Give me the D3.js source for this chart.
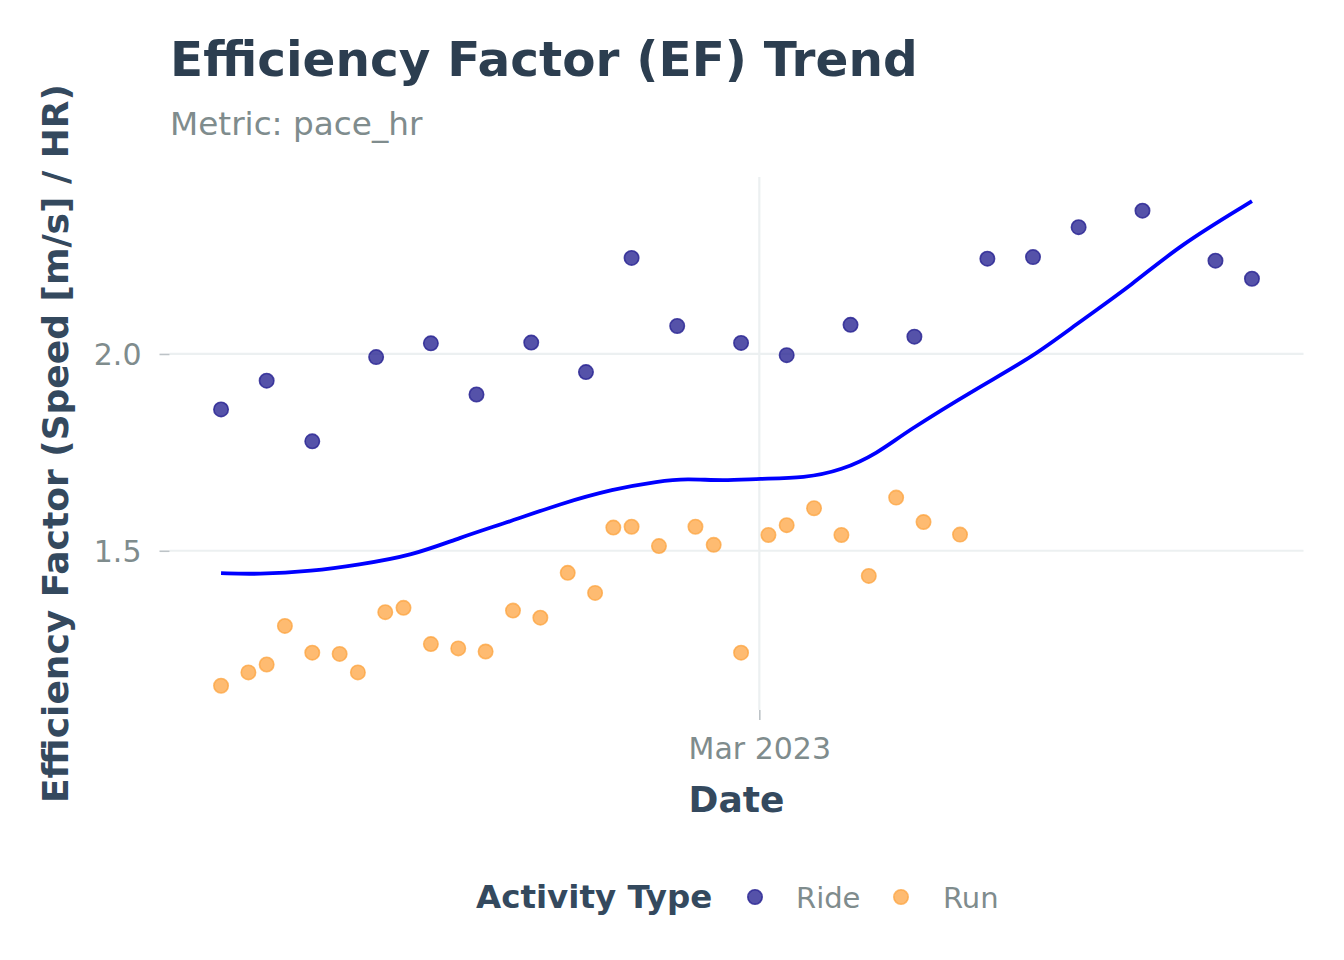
<!DOCTYPE html>
<html>
<head>
<meta charset="utf-8">
<script src="https://cdn.jsdelivr.net/npm/d3@7"></script>
<style>
  body { margin: 0; background: #fff; }
  text { font-family: "DejaVu Sans", sans-serif; }
</style>
</head>
<body>
<svg id="chart" width="1344" height="960"></svg>
<script>
// Ride activities
const rideDates = ["2023-01-01","2023-01-06","2023-01-11","2023-01-18","2023-01-24","2023-01-29",
  "2023-02-04","2023-02-10","2023-02-15","2023-02-20","2023-02-27","2023-03-04","2023-03-11",
  "2023-03-18","2023-03-26","2023-03-31","2023-04-05","2023-04-12","2023-04-20","2023-04-24"];
const rideEF = [1.859, 1.932, 1.778, 1.992, 2.027, 1.897, 2.029, 1.954, 2.244, 2.071, 2.028,
  1.997, 2.074, 2.044, 2.242, 2.246, 2.322, 2.364, 2.237, 2.191];

// Run activities
const runDates = ["2023-01-01","2023-01-04","2023-01-06","2023-01-08","2023-01-11","2023-01-14",
  "2023-01-16","2023-01-19","2023-01-21","2023-01-24","2023-01-27","2023-01-30","2023-02-02",
  "2023-02-05","2023-02-08","2023-02-11","2023-02-13","2023-02-15","2023-02-18","2023-02-22",
  "2023-02-24","2023-02-27","2023-03-02","2023-03-04","2023-03-07","2023-03-10","2023-03-13",
  "2023-03-16","2023-03-19","2023-03-23"];
const runEF = [1.157, 1.191, 1.211, 1.309, 1.241, 1.238, 1.191, 1.344, 1.355, 1.263, 1.252,
  1.244, 1.348, 1.330, 1.444, 1.393, 1.559, 1.561, 1.512, 1.561, 1.515, 1.241, 1.540, 1.565,
  1.608, 1.540, 1.436, 1.635, 1.573, 1.541];

// Smoothed trend
const trendDates = ["2023-01-01","2023-01-05","2023-01-11","2023-01-16","2023-01-22","2023-01-27",
  "2023-02-02","2023-02-07","2023-02-13","2023-02-18","2023-02-21","2023-02-25","2023-03-01",
  "2023-03-06","2023-03-10","2023-03-14","2023-03-17","2023-03-25","2023-03-31","2023-04-05",
  "2023-04-11","2023-04-16","2023-04-24"];
const trendEF = [1.443, 1.440, 1.448, 1.464, 1.488, 1.532, 1.577, 1.618, 1.657, 1.677, 1.683,
  1.678, 1.683, 1.685, 1.704, 1.748, 1.801, 1.915, 1.993, 2.080, 2.178, 2.275, 2.388];

const yTicks = [1.5, 2.0];
const xTicks = ["2023-03-01"];

const parse = d3.utcParse("%Y-%m-%d");
const rides = rideDates.map((d, i) => ({ date: parse(d), ef: rideEF[i], type: "Ride" }));
const runs = runDates.map((d, i) => ({ date: parse(d), ef: runEF[i], type: "Run" }));
const trend = trendDates.map((d, i) => ({ date: parse(d), ef: trendEF[i] }));

const colors = {
  Ride: { fill: "#2b2794", stroke: "#2b2794" },
  Run: { fill: "#fd9e35", stroke: "#fca33e" }
};

const svg = d3.select("#chart");
const panel = { left: 169.5, right: 1303.5, top: 177, bottom: 710 };

// ggplot-like 5% expansion
function expand(ext) {
  const pad = (ext[1] - ext[0]) * 0.05;
  return [ext[0] - pad, ext[1] + pad];
}
const all = rides.concat(runs);
const xExt = d3.extent(all, d => +d.date);
const yExt = d3.extent(all.concat(trend), d => d.ef);

const x = d3.scaleUtc()
  .domain(expand(xExt).map(v => new Date(v)))
  .range([panel.left, panel.right]);
const y = d3.scaleLinear()
  .domain(expand(yExt))
  .range([panel.bottom, panel.top]);

// Grid lines
svg.append("g")
  .selectAll("line")
  .data(yTicks)
  .join("line")
  .attr("x1", panel.left).attr("x2", panel.right)
  .attr("y1", d => y(d)).attr("y2", d => y(d))
  .attr("stroke", "#ecf0f1").attr("stroke-width", 2.2);

svg.append("g")
  .selectAll("line")
  .data(xTicks.map(parse))
  .join("line")
  .attr("x1", d => x(d)).attr("x2", d => x(d))
  .attr("y1", panel.top).attr("y2", panel.bottom)
  .attr("stroke", "#ecf0f1").attr("stroke-width", 2.2);

// Y axis
const yAxis = svg.append("g")
  .attr("transform", `translate(${panel.left},0)`)
  .call(d3.axisLeft(y).tickValues(yTicks).tickFormat(d3.format(".1f")).tickSize(10).tickPadding(18));
yAxis.select(".domain").remove();
yAxis.selectAll("line").attr("stroke", "#bdc3c7").attr("stroke-width", 1.6);
yAxis.selectAll("text")
  .attr("fill", "#7f8c8d")
  .style("font-size", "30px")
  .attr("dy", "0.36em");

// X axis
const xAxis = svg.append("g")
  .attr("transform", `translate(0,${panel.bottom})`)
  .call(d3.axisBottom(x).tickValues(xTicks.map(parse)).tickFormat(d3.utcFormat("%b %Y")).tickSize(10).tickPadding(10));
xAxis.select(".domain").remove();
xAxis.selectAll("line").attr("stroke", "#bdc3c7").attr("stroke-width", 1.6);
xAxis.selectAll("text")
  .attr("fill", "#7f8c8d")
  .style("font-size", "30px")
  .attr("dy", "0.95em");

// Points
svg.append("g")
  .selectAll("circle")
  .data(all)
  .join("circle")
  .attr("cx", d => x(d.date))
  .attr("cy", d => y(d.ef))
  .attr("r", 7.2)
  .attr("fill", d => colors[d.type].fill)
  .attr("fill-opacity", d => d.type === "Ride" ? 0.8 : 0.7)
  .attr("stroke", d => colors[d.type].stroke)
  .attr("stroke-opacity", d => d.type === "Ride" ? 0.85 : 0.75)
  .attr("stroke-width", 1.6);

// Trend line
const line = d3.line()
  .x(d => x(d.date))
  .y(d => y(d.ef))
  .curve(d3.curveBasis);

svg.append("path")
  .datum(trend)
  .attr("fill", "none")
  .attr("stroke", "#0000ff")
  .attr("stroke-width", 3.8)
  .attr("d", line);

// Titles
svg.append("text")
  .attr("x", 170).attr("y", 76)
  .attr("fill", "#2c3e50")
  .style("font-size", "48.5px").style("font-weight", "bold")
  .text("Efficiency Factor (EF) Trend");

svg.append("text")
  .attr("x", 170).attr("y", 135)
  .attr("fill", "#7f8c8d")
  .style("font-size", "32.7px")
  .text("Metric: pace_hr");

svg.append("text")
  .attr("x", (panel.left + panel.right) / 2).attr("y", 812)
  .attr("text-anchor", "middle")
  .attr("fill", "#34495e")
  .style("font-size", "36px").style("font-weight", "bold")
  .text("Date");

svg.append("text")
  .attr("transform", `translate(68,${(panel.top + panel.bottom) / 2}) rotate(-90)`)
  .attr("text-anchor", "middle")
  .attr("fill", "#34495e")
  .style("font-size", "36px").style("font-weight", "bold")
  .text("Efficiency Factor (Speed [m/s] / HR)");

// Legend
const legend = svg.append("g");
legend.append("text")
  .attr("x", 476).attr("y", 908)
  .attr("fill", "#34495e")
  .style("font-size", "32.5px").style("font-weight", "bold")
  .text("Activity Type");

const legendItems = [
  { type: "Ride", cx: 755, tx: 796 },
  { type: "Run", cx: 901, tx: 943 }
];
legend.selectAll("circle")
  .data(legendItems)
  .join("circle")
  .attr("cx", d => d.cx).attr("cy", 897)
  .attr("r", 7.2)
  .attr("fill", d => colors[d.type].fill)
  .attr("fill-opacity", d => d.type === "Ride" ? 0.8 : 0.7)
  .attr("stroke", d => colors[d.type].stroke)
  .attr("stroke-opacity", d => d.type === "Ride" ? 0.85 : 0.75)
  .attr("stroke-width", 1.6);
legend.selectAll("text.item")
  .data(legendItems)
  .join("text")
  .attr("class", "item")
  .attr("x", d => d.tx).attr("y", 908)
  .attr("fill", "#7f8c8d")
  .style("font-size", "29px")
  .text(d => d.type);
</script>
</body>
</html>
